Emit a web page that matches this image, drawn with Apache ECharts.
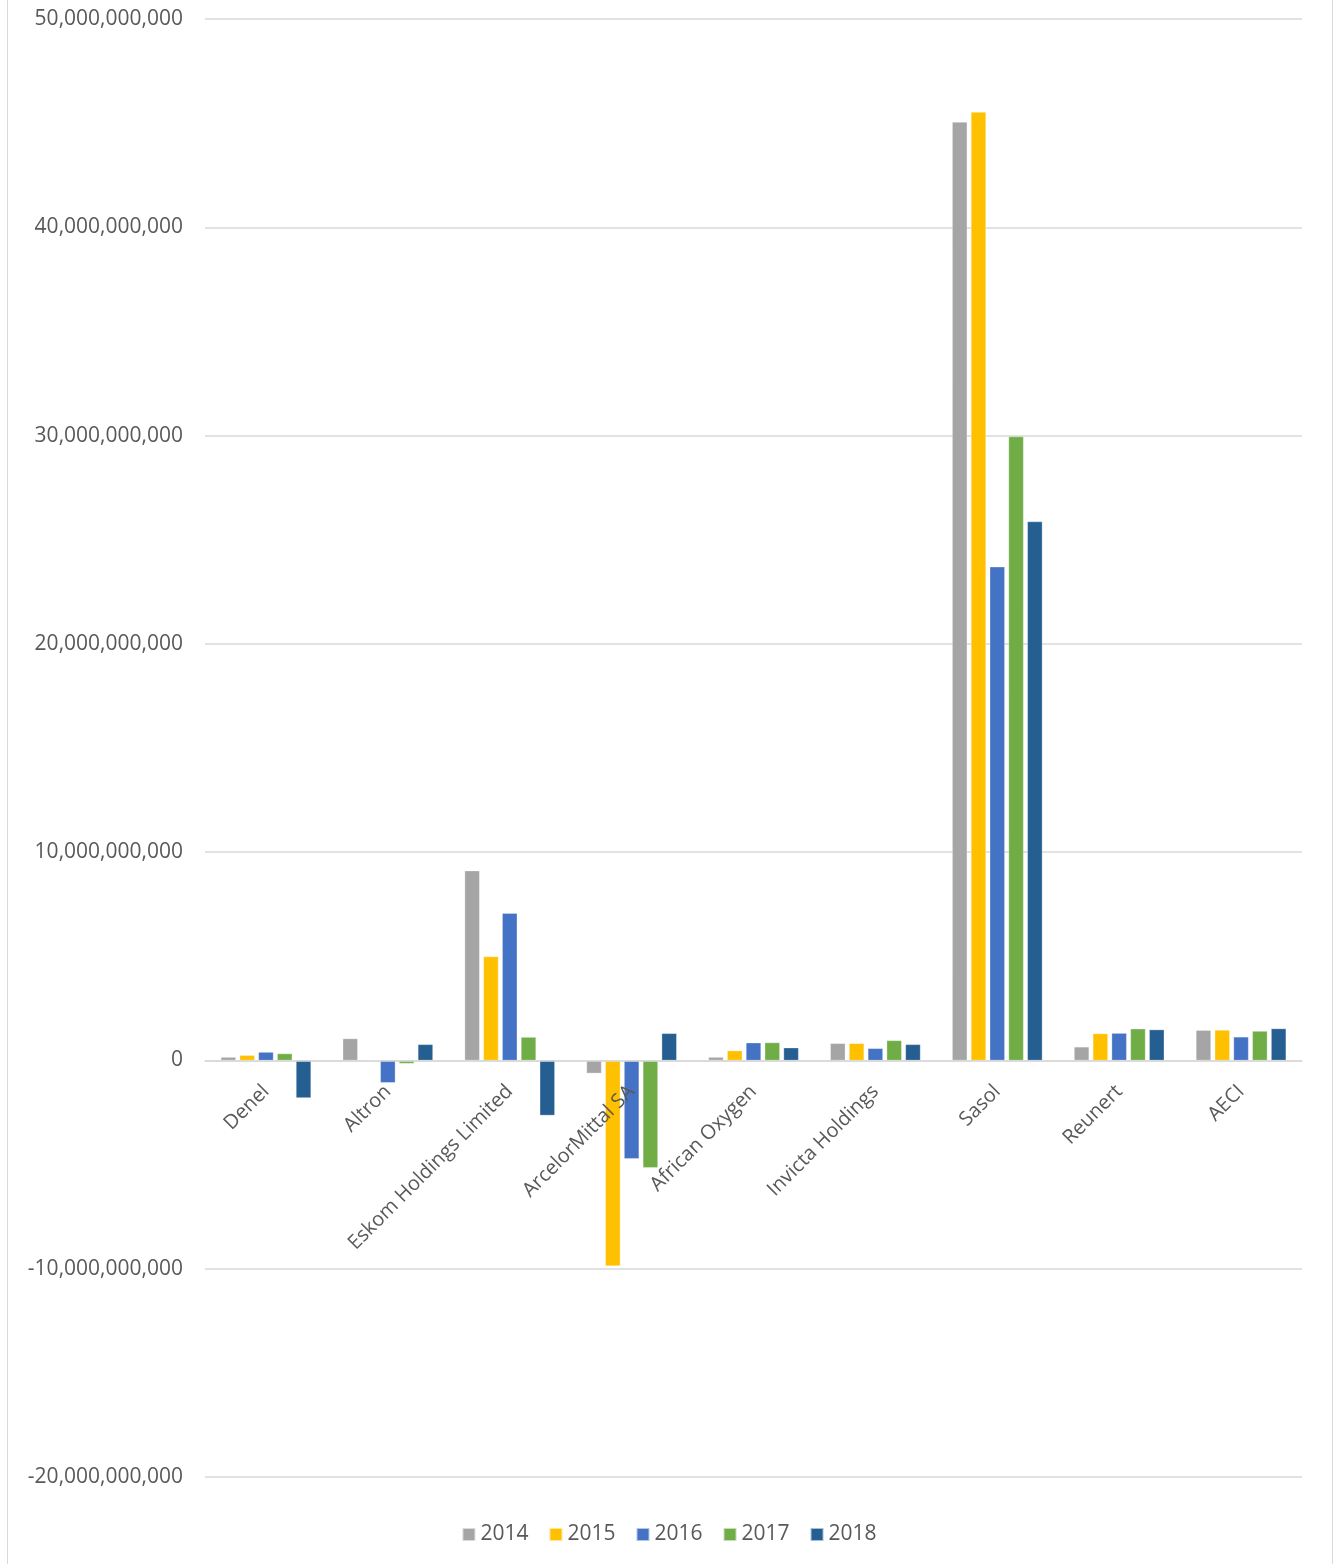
<!DOCTYPE html>
<html>
<head>
<meta charset="utf-8">
<script src="https://cdn.jsdelivr.net/npm/echarts@6/dist/echarts.min.js"></script>
<style>
html,body{margin:0;padding:0;background:#fff;}
#frame{position:absolute;left:7px;top:-2px;width:1324px;height:1570px;border-left:1px solid #d9d9d9;border-right:1px solid #d9d9d9;}
#chart{position:absolute;left:0;top:0;width:1338px;height:1564px;}
</style>
</head>
<body>
<div id="frame"></div>
<div id="chart"></div>
<script>
const categories = ["Denel","Altron","Eskom Holdings Limited","ArcelorMittal SA","African Oxygen","Invicta Holdings","Sasol","Reunert","AECI"];
const years = ["2014","2015","2016","2017","2018"];
const s2014 = [0.16e9, 1.05e9, 9.11e9, -0.62e9, 0.16e9, 0.82e9, 45.05e9, 0.65e9, 1.45e9];
const s2015 = [0.25e9, 0.02e9, 4.99e9, -9.87e9, 0.47e9, 0.82e9, 45.53e9, 1.29e9, 1.46e9];
const s2016 = [0.40e9, -1.07e9, 7.07e9, -4.72e9, 0.85e9, 0.58e9, 23.7e9, 1.31e9, 1.13e9];
const s2017 = [0.33e9, -0.15e9, 1.12e9, -5.15e9, 0.86e9, 0.96e9, 29.95e9, 1.52e9, 1.41e9];
const s2018 = [-1.8e9, 0.77e9, -2.64e9, 1.30e9, 0.61e9, 0.77e9, 25.87e9, 1.48e9, 1.53e9];
const seriesValues = [s2014, s2015, s2016, s2017, s2018];
const colors = ["#A5A5A5","#FFC000","#4472C4","#70AD47","#255E91"];
const yTicks = {min: -20e9, max: 50e9, interval: 10e9};

const font = "'Open Sans', 'Liberation Sans', sans-serif";
const gridTop = 19, gridBottom = 87, H = 1564;
const plotH = H - gridTop - gridBottom;
// pixel distance from plot bottom to the zero line, derived from the axis range
const zeroOffset = plotH * (0 - yTicks.min) / (yTicks.max - yTicks.min);

const chart = echarts.init(document.getElementById('chart'));
chart.setOption({
  animation: false,
  color: colors,
  grid: {left: 205, right: 36, top: gridTop, bottom: gridBottom, containLabel: false, outerBoundsMode: 'none'},
  legend: {
    bottom: 14, left: 'center',
    itemWidth: 13, itemHeight: 13, itemGap: 20,
    icon: 'rect',
    textStyle: {fontFamily: font, fontSize: 21, color: '#595959'},
    data: years
  },
  xAxis: {
    type: 'category',
    data: categories,
    position: 'bottom',
    offset: -zeroOffset,
    z: 10,
    axisLine: {onZero: false, lineStyle: {color: '#d9d9d9', width: 1.5}},
    axisTick: {show: false},
    axisLabel: {rotate: 45, interval: 0, fontFamily: font, fontSize: 20, color: '#595959', margin: 28}
  },
  yAxis: {
    type: 'value',
    min: yTicks.min, max: yTicks.max, interval: yTicks.interval,
    axisLine: {show: false},
    axisTick: {show: false},
    splitLine: {lineStyle: {color: '#d9d9d9', width: 1.5}},
    axisLabel: {
      fontFamily: font, fontSize: 21, color: '#595959', margin: 22,
      formatter: v => Math.round(v).toLocaleString('en-US')
    }
  },
  series: years.map((y, i) => ({
    name: y,
    type: 'bar',
    data: seriesValues[i],
    barGap: '25%',
    barCategoryGap: '26%',
    itemStyle: {color: colors[i], borderColor: 'rgba(255,255,255,0.6)', borderWidth: 0.5}
  }))
});
</script>
</body>
</html>
